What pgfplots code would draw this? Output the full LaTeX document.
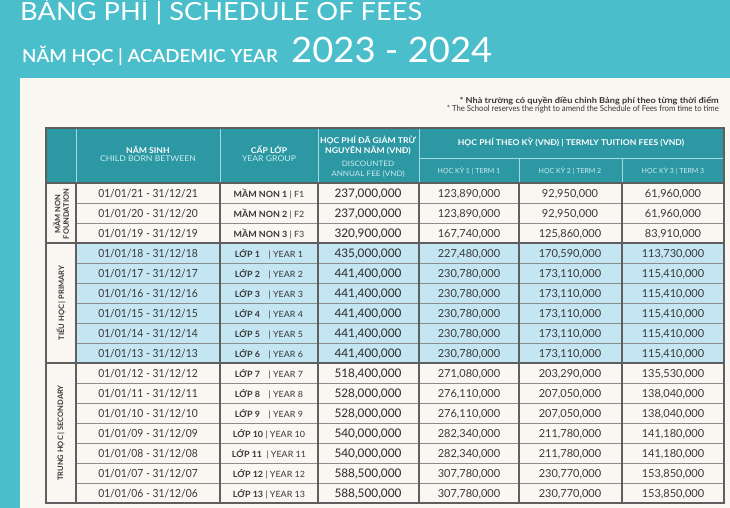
\documentclass[border=0pt]{standalone}
\usepackage{pgfplots}
\pgfplotsset{compat=1.18}
\usepackage{pgfplotstable}
\usepackage{fontspec}
\setmainfont{Lato}
\newfontfamily\titlefont[FakeStretch=1.09]{Lato}
\newfontfamily\subfont[FakeStretch=1.04]{Lato}
\newfontfamily\semifont[FakeStretch=1.04]{Lato Semibold}
\newfontfamily\medfont{Lato Medium}
\newfontfamily\notefont[FakeStretch=1.12]{Lato}
\newfontfamily\datefont[FakeStretch=0.92]{Lato}
\newfontfamily\hdfont[FakeStretch=1.08]{Lato}
\definecolor{bgteal}{RGB}{74,190,202}
\definecolor{cream}{RGB}{250,246,241}
\definecolor{hdteal}{RGB}{43,152,164}
\definecolor{hdline}{RGB}{165,218,224}
\definecolor{hden}{RGB}{205,236,239}
\definecolor{ltblue}{RGB}{196,230,242}
\definecolor{bord}{RGB}{95,95,95}
\definecolor{rowline}{RGB}{140,140,140}
\definecolor{txt}{RGB}{55,55,55}

\pgfplotstableread[col sep=semicolon]{
y;born;grp;annual;tone;ttwo;tthree
194;01/01/21 - 31/12/21;{\textbf{MẦM NON 1} | F1};237,000,000;123,890,000;92,950,000;61,960,000
214;01/01/20 - 31/12/20;{\textbf{MẦM NON 2} | F2};237,000,000;123,890,000;92,950,000;61,960,000
234;01/01/19 - 31/12/19;{\textbf{MẦM NON 3} | F3};320,900,000;167,740,000;125,860,000;83,910,000
254;01/01/18 - 31/12/18;{\textbf{LỚP 1}\enspace\enspace| YEAR 1};435,000,000;227,480,000;170,590,000;113,730,000
274;01/01/17 - 31/12/17;{\textbf{LỚP 2}\enspace\enspace| YEAR 2};441,400,000;230,780,000;173,110,000;115,410,000
294;01/01/16 - 31/12/16;{\textbf{LỚP 3}\enspace\enspace| YEAR 3};441,400,000;230,780,000;173,110,000;115,410,000
314;01/01/15 - 31/12/15;{\textbf{LỚP 4}\enspace\enspace| YEAR 4};441,400,000;230,780,000;173,110,000;115,410,000
334;01/01/14 - 31/12/14;{\textbf{LỚP 5}\enspace\enspace| YEAR 5};441,400,000;230,780,000;173,110,000;115,410,000
354;01/01/13 - 31/12/13;{\textbf{LỚP 6}\enspace\enspace| YEAR 6};441,400,000;230,780,000;173,110,000;115,410,000
374;01/01/12 - 31/12/12;{\textbf{LỚP 7}\enspace\enspace| YEAR 7};518,400,000;271,080,000;203,290,000;135,530,000
394;01/01/11 - 31/12/11;{\textbf{LỚP 8}\enspace\enspace| YEAR 8};528,000,000;276,110,000;207,050,000;138,040,000
414;01/01/10 - 31/12/10;{\textbf{LỚP 9}\enspace\enspace| YEAR 9};528,000,000;276,110,000;207,050,000;138,040,000
434;01/01/09 - 31/12/09;{\textbf{LỚP 10} | YEAR 10};540,000,000;282,340,000;211,780,000;141,180,000
454;01/01/08 - 31/12/08;{\textbf{LỚP 11}\enspace | YEAR 11};540,000,000;282,340,000;211,780,000;141,180,000
474;01/01/07 - 31/12/07;{\textbf{LỚP 12} | YEAR 12};588,500,000;307,780,000;230,770,000;153,850,000
494;01/01/06 - 31/12/06;{\textbf{LỚP 13} | YEAR 13};588,500,000;307,780,000;230,770,000;153,850,000
}\feetable

\pgfplotsset{celltext/.style={only marks, mark=none, nodes near coords, nodes near coords align={center}, point meta=explicit symbolic,
  every node near coord/.append style={anchor=center, inner sep=0pt, text=txt, font=#1}}}

\begin{document}
\begin{tikzpicture}
\path[use as bounding box] (0,0) rectangle (730pt,508pt);
\clip (0,0) rectangle (730pt,508pt);
\begin{axis}[at={(0,0)}, anchor=south west, width=730pt, height=508pt, scale only axis, hide axis,
  xmin=0, xmax=730, ymin=0, ymax=508, y dir=reverse, clip=false]
% background
\addplot[fill=bgteal, draw=none] coordinates {(0,0) (730,0) (730,508) (0,508)} -- cycle;
\addplot[fill=cream, draw=none] coordinates {(20,78) (730,78) (730,508) (20,508)} -- cycle;
% header fill
\addplot[fill=hdteal, draw=none] coordinates {(46,128) (724,128) (724,183) (46,183)} -- cycle;
% primary fill
\addplot[fill=ltblue, draw=none] coordinates {(76,243) (724,243) (724,363) (76,363)} -- cycle;
% header separators
\pgfplotsinvokeforeach{76,220,318,419}{\addplot[hdline, line width=1pt] coordinates {(#1,128) (#1,183)};}
\pgfplotsinvokeforeach{519,622}{\addplot[hdline, line width=1pt] coordinates {(#1,158) (#1,183)};}
\addplot[hdline, line width=1pt] coordinates {(419,158) (724,158)};
% body row lines
\pgfplotsinvokeforeach{203,223,263,283,303,323,343,383,403,423,443,463,483}{\addplot[rowline, line width=0.8pt] coordinates {(76,#1) (724,#1)};}
\pgfplotsinvokeforeach{183,243,363}{\addplot[bord, line width=1.1pt] coordinates {(46,#1) (724,#1)};}
\pgfplotsinvokeforeach{76,220,318,419,519,622}{\addplot[bord, line width=1.1pt] coordinates {(#1,183) (#1,503)};}
\addplot[bord, line width=1.6pt] coordinates {(46,128) (724,128) (724,503) (46,503)} -- cycle;
% titles
\node[anchor=base west, text=white, font=\titlefont\fontsize{25}{25}\selectfont, inner sep=0pt] at (axis cs:20,21) {BẢNG PHÍ | SCHEDULE OF FEES};
\node[anchor=base west, text=white, font=\semifont\fontsize{18}{18}\selectfont, inner sep=0pt] at (axis cs:22,63) {NĂM HỌC | ACADEMIC YEAR};
\node[anchor=base west, text=white, font=\subfont\fontsize{35}{35}\selectfont, inner sep=0pt] at (axis cs:291,63) {2023 - 2024};
\node[anchor=base east, text=txt, font=\notefont\bfseries\fontsize{8.2}{9}\selectfont, inner sep=0pt] at (axis cs:719,103) {* Nhà trường có quyền điều chỉnh Bảng phí theo từng thời điểm};
\node[anchor=base east, text=txt, font=\datefont\fontsize{8.4}{9}\selectfont, inner sep=0pt] at (axis cs:719,112) {* The School reserves the right to amend the Schedule of Fees from time to time};
% header text
\node[text=white, font=\hdfont\bfseries\fontsize{8}{9}\selectfont, inner sep=0pt] at (axis cs:148,149.5) {NĂM SINH};
\node[text=hden, font=\hdfont\fontsize{8}{9}\selectfont, inner sep=0pt] at (axis cs:148,159) {CHILD BORN BETWEEN};
\node[text=white, font=\hdfont\bfseries\fontsize{8}{9}\selectfont, inner sep=0pt] at (axis cs:269,149.5) {CẤP LỚP};
\node[text=hden, font=\hdfont\fontsize{8}{9}\selectfont, inner sep=0pt] at (axis cs:269,159) {YEAR GROUP};
\node[text=white, font=\hdfont\bfseries\fontsize{8}{10}\selectfont, inner sep=0pt, align=center] at (axis cs:368,145) {HỌC PHÍ ĐÃ GIẢM TRỪ\\NGUYÊN NĂM (VNĐ)};
\node[text=hden, font=\hdfont\fontsize{7.5}{10}\selectfont, inner sep=0pt, align=center] at (axis cs:368,169.5) {DISCOUNTED\\ANNUAL FEE (VND)};
\node[text=white, font=\hdfont\bfseries\fontsize{8}{9}\selectfont, inner sep=0pt] at (axis cs:571,143) {HỌC PHÍ THEO KỲ (VNĐ) | TERMLY TUITION FEES (VND)};
\node[text=hden, font=\fontsize{7}{8}\selectfont, inner sep=0pt] at (axis cs:469,171) {HỌC KỲ 1 | TERM 1};
\node[text=hden, font=\fontsize{7}{8}\selectfont, inner sep=0pt] at (axis cs:570,171) {HỌC KỲ 2 | TERM 2};
\node[text=hden, font=\fontsize{7}{8}\selectfont, inner sep=0pt] at (axis cs:673,171) {HỌC KỲ 3 | TERM 3};
% group labels
\node[rotate=90, text=txt, font=\bfseries\fontsize{7.5}{8.5}\selectfont, inner sep=0pt, align=center] at (axis cs:61,214) {MẦM NON\\FOUNDATION};
\node[rotate=90, text=txt, font=\bfseries\fontsize{7.5}{8}\selectfont, inner sep=0pt] at (axis cs:61,303) {TIỂU HỌC | PRIMARY};
\node[rotate=90, text=txt, font=\bfseries\fontsize{7.5}{8}\selectfont, inner sep=0pt] at (axis cs:61,433) {TRUNG HỌC | SECONDARY};
% cell data
\addplot[celltext={\datefont\fontsize{11.2}{12}\selectfont}] table[x expr=148, y=y, meta=born] {\feetable};
\addplot[celltext={\subfont\fontsize{8.6}{9}\selectfont}] table[x expr=269, y=y, meta=grp] {\feetable};
\addplot[celltext={\medfont\fontsize{11.8}{12}\selectfont}] table[x expr=368, y=y, meta=annual] {\feetable};
\addplot[celltext={\fontsize{11}{12}\selectfont}] table[x expr=469, y=y, meta=tone] {\feetable};
\addplot[celltext={\fontsize{11}{12}\selectfont}] table[x expr=570, y=y, meta=ttwo] {\feetable};
\addplot[celltext={\fontsize{11}{12}\selectfont}] table[x expr=673, y=y, meta=tthree] {\feetable};
\end{axis}
\end{tikzpicture}
\end{document}
